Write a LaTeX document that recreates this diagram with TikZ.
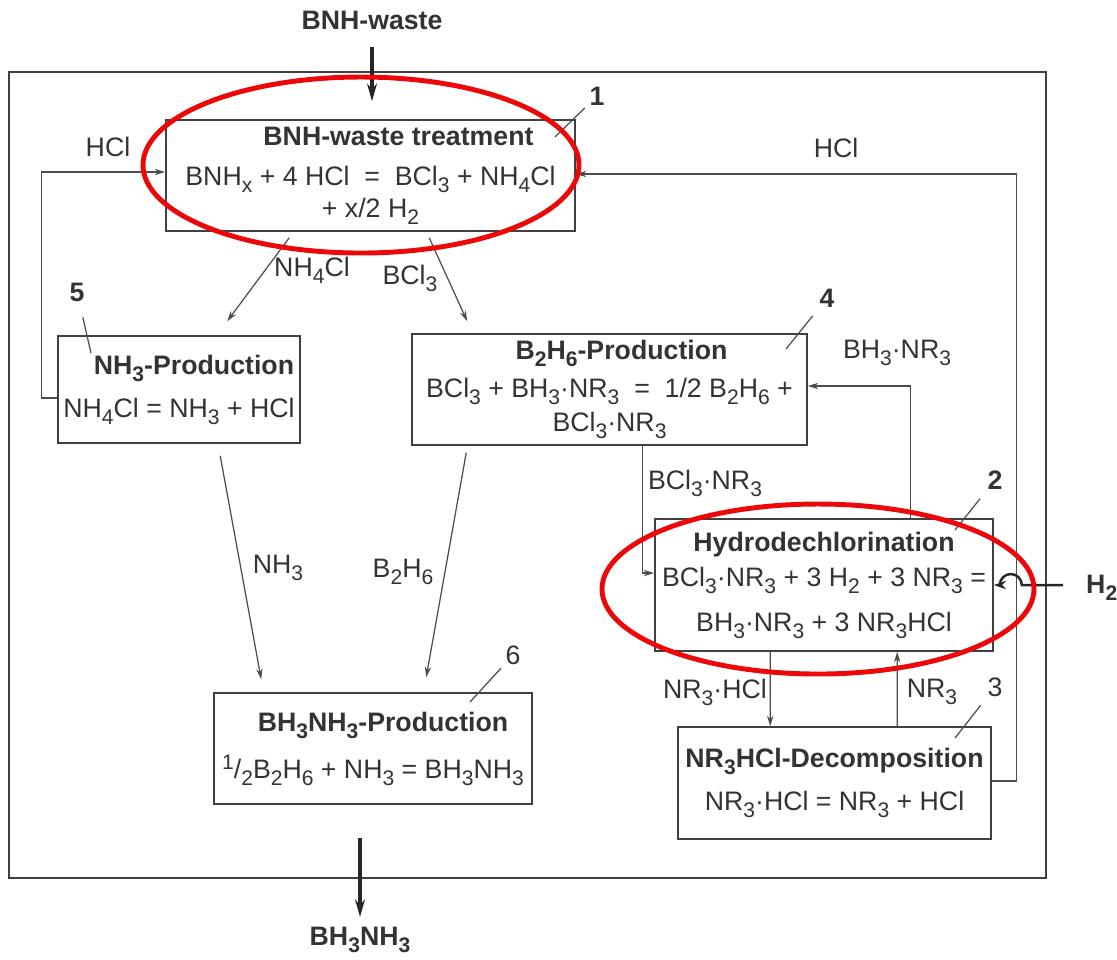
\documentclass[tikz,border=0pt]{standalone}
\usepackage{fontspec}
\setmainfont{Liberation Sans}
\usetikzlibrary{arrows.meta,calc}
\definecolor{ringred}{RGB}{236,8,8}
\newcommand{\chsub}[1]{\raisebox{-2pt}{\fontsize{6}{7}\selectfont#1}}
\newcommand{\chsup}[1]{\raisebox{2.6pt}{\fontsize{6}{7}\selectfont#1}}

\begin{document}
\begin{tikzpicture}[x=0.1mm,y=-0.1mm,
  every node/.style={font=\fontsize{7.6}{9.1}\selectfont,text=black!80,inner sep=1pt},
  unit/.style={draw=black!75,line width=0.45pt,align=center,inner sep=0pt},
  conn/.style={draw=black!70,line width=0.35pt,-{Stealth[length=3pt,width=1.8pt]}},
  heavy/.style={draw=black!85,line width=0.9pt,-{Stealth[length=5pt,width=2.8pt]}},
  lead/.style={draw=black!70,line width=0.35pt},
  ring/.style={draw=ringred,line width=1.4pt},
  tag/.style={font=\fontsize{7.6}{9.1}\selectfont\bfseries}]
  \useasboundingbox (0,0) rectangle (1117,959);
  \draw[draw=black!75,line width=0.45pt] (9,72) rectangle (1046,878);
  % process units
  \node[unit,minimum width=40.9mm,minimum height=11.1mm] (bnh) at (370.5,175.5)
    {\hspace*{5.6mm}\textbf{BNH-waste treatment}\\[2.3pt]
     BNH\chsub{x} + 4 HCl \ = \ BCl\chsub{3} + NH\chsub{4}Cl\\ + x/2 H\chsub{2}};
  \node[unit,minimum width=24.2mm,minimum height=10.7mm] (nh3) at (179,389.5)
    {\hspace*{3mm}\textbf{NH\chsub{3}-Production}\\[3.1pt] NH\chsub{4}Cl = NH\chsub{3} + HCl};
  \node[unit,minimum width=39.5mm,minimum height=11.1mm] (b2h6) at (609.5,389.5)
    {\hspace*{2.4mm}\textbf{B\chsub{2}H\chsub{6}-Production}\\[1.7pt]
     BCl\chsub{3} + BH\chsub{3}·NR\chsub{3} \ = \ 1/2 B\chsub{2}H\chsub{6} +\\[0.6pt] BCl\chsub{3}·NR\chsub{3}};
  \node[unit,minimum width=33.8mm,minimum height=13.2mm] (hyd) at (824,585)
    {\textbf{Hydrodechlorination}\\[0.9pt]
     BCl\chsub{3}·NR\chsub{3} + 3 H\chsub{2} + 3 NR\chsub{3} =\\[3.7pt]
     BH\chsub{3}·NR\chsub{3} + 3 NR\chsub{3}HCl};
  \node[unit,minimum width=31.3mm,minimum height=11.2mm] (dec) at (834.5,783)
    {\textbf{NR\chsub{3}HCl-Decomposition}\\[3.1pt] NR\chsub{3}·HCl = NR\chsub{3} + HCl};
  \node[unit,minimum width=31.8mm,minimum height=11.1mm] (prod) at (373,748.5)
    {\hspace*{2mm}\textbf{BH\chsub{3}NH\chsub{3}-Production}\\[4.3pt]
     \chsup{1}/\chsub{2}B\chsub{2}H\chsub{6} + NH\chsub{3} = BH\chsub{3}NH\chsub{3}};
  % stream labels
  \node[tag] (waste) at (372,20) {BNH-waste};
  \node[tag] (product) at (360,940) {BH\chsub{3}NH\chsub{3}};
  \node[tag,anchor=west] (lh2) at (1082,588) {H\chsub{2}};
  \node (hclw) at (108,147) {HCl};
  \node (hcle) at (836,148) {HCl};
  \node (lnh4cl) at (312,270) {NH\chsub{4}Cl};
  \node (lbcl3) at (410,278) {BCl\chsub{3}};
  \node (lnh3) at (278,568) {NH\chsub{3}};
  \node (lb2h6) at (403,572) {B\chsub{2}H\chsub{6}};
  \node (lbh3nr3) at (897,353) {BH\chsub{3}·NR\chsub{3}};
  \node (lbcl3nr3) at (705,483) {BCl\chsub{3}·NR\chsub{3}};
  \node (lnr3hcl) at (715,692) {NR\chsub{3}·HCl};
  \node (lnr3) at (932,692) {NR\chsub{3}};
  % unit numbers
  \node[tag] (n1) at (597,96) {1};
  \node[tag] (n2) at (995,480) {2};
  \node (n3) at (995,687) {3};
  \node[tag] (n4) at (827,298) {4};
  \node[tag] (n5) at (77,292) {5};
  \node (n6) at (513,655) {6};
  \coordinate (t1) at (555,137);
  \coordinate (t2) at (955,530);
  \coordinate (t3) at (955,738);
  \coordinate (t4) at (786,349);
  \coordinate (t5) at (91,353);
  \coordinate (t6) at (470,702);
  \foreach \n/\s in {1/1.7,2/2.4,3/2.3,4/2.3,5/2.6,6/1.8}
    \draw[lead,shorten <=\s mm] (n\n.center) -- (t\n);
  % streams
  \draw[heavy,shorten <=1.3mm,shorten >=1.8mm] (waste.south) -- (waste.south |- bnh.north);
  \draw[heavy,shorten <=3.3mm,shorten >=0.6mm] (prod.south -| product.north) -- (product.north);
  \draw[conn] ($(nh3.west)+(0,8.5)$) -- ++(-16,0) |- ($(bnh.west)+(0,-3.5)$);
  \draw[conn] ($(dec.east)+(0,-2)$) -- ++(25,0) |- ($(bnh.east)+(0,-1.5)$);
  \draw[conn] ($(bnh.south west)+(124,6)$) -- ($(nh3.north west)+(170,-14)$);
  \draw[conn] ($(bnh.south west)+(264,6)$) -- ($(b2h6.north west)+(56,-12)$);
  \draw[conn] ($(nh3.south west)+(163,12)$) -- ($(prod.north west)+(48,-13)$);
  \draw[conn] ($(b2h6.south west)+(55,7)$) -- ($(prod.north west)+(213,-15)$);
  \draw[conn] ($(hyd.north west)+(256,0)$) |- ($(b2h6.east)+(0,-3.5)$);
  \draw[conn] ($(b2h6.south west)+(231,0)$) |- ($(hyd.west)+(0,-12)$);
  \draw[conn] ($(hyd.south west)+(116,0)$) -- ($(dec.north west)+(93,0)$);
  \draw[conn] ($(dec.north west)+(220,0)$) -- ($(hyd.south west)+(243,0)$);
  \draw[draw=black!85,line width=0.7pt,{Stealth[length=3.5pt,width=2.4pt]}-,shorten >=1.9mm]
    (hyd.east) -- ++(6,0) arc[start angle=180,end angle=360,radius=11] -- (lh2.west |- hyd.east);
  % highlight rings
  \draw[ring] (361,165) ellipse [x radius=218,y radius=88];
  \draw[ring] (818,589) ellipse [x radius=216,y radius=85];
\end{tikzpicture}
\end{document}
